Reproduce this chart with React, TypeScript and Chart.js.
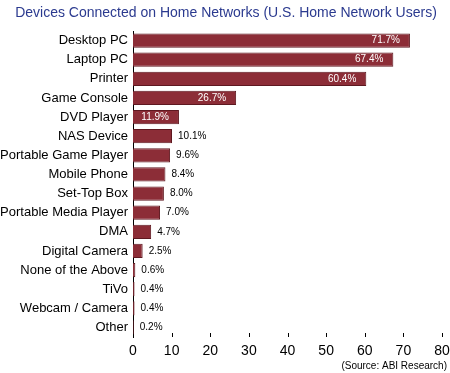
import React, { useEffect, useRef } from "react";
import { Chart, registerables } from "chart.js";

Chart.register(...registerables);

const categories = [
  "Desktop PC",
  "Laptop PC",
  "Printer",
  "Game Console",
  "DVD Player",
  "NAS Device",
  "Portable Game Player",
  "Mobile Phone",
  "Set-Top Box",
  "Portable Media Player",
  "DMA",
  "Digital Camera",
  "None of the Above",
  "TiVo",
  "Webcam / Camera",
  "Other",
];
const values = [71.7, 67.4, 60.4, 26.7, 11.9, 10.1, 9.6, 8.4, 8.0, 7.0, 4.7, 2.5, 0.6, 0.4, 0.4, 0.2];
const xTicks = [0, 10, 20, 30, 40, 50, 60, 70, 80];
const titleText = "Devices Connected on Home Networks (U.S. Home Network Users)";
const sourceText = "(Source: ABI Research)";

const FONT = "'Liberation Sans', Arial, sans-serif";

const decorPlugin = {
  id: "decor",
  afterDraw(chart: any) {
    const ctx = chart.ctx;
    const area = chart.chartArea;
    const xs = chart.scales.x;
    ctx.save();
    ctx.fillStyle = "#2B3A8F";
    ctx.font = `14px ${FONT}`;
    ctx.textAlign = "center";
    ctx.textBaseline = "middle";
    ctx.fillText(titleText, 226, 13);
    ctx.fillStyle = "#000";
    ctx.font = `10px ${FONT}`;
    ctx.textAlign = "right";
    ctx.fillText(sourceText, 447, 366);
    ctx.strokeStyle = "#000";
    ctx.lineWidth = 1;
    xTicks.forEach((v) => {
      if (v === 0) return;
      const px = Math.round(xs.getPixelForValue(v)) + 0.5;
      ctx.beginPath();
      ctx.moveTo(px, area.bottom);
      ctx.lineTo(px, area.bottom - 4);
      ctx.stroke();
    });
    ctx.restore();
  },
  afterDatasetsDraw(chart: any) {
    const ctx = chart.ctx;
    const meta = chart.getDatasetMeta(0);
    ctx.save();
    ctx.font = `10px ${FONT}`;
    ctx.textBaseline = "middle";
    meta.data.forEach((bar: any, i: number) => {
      const v = values[i];
      const label = v.toFixed(1) + "%";
      if (v > 11) {
        ctx.fillStyle = "#fff";
        ctx.textAlign = "right";
        ctx.fillText(label, bar.x - 10, bar.y);
      } else {
        ctx.fillStyle = "#000";
        ctx.textAlign = "left";
        ctx.fillText(label, bar.x + 6, bar.y);
      }
    });
    ctx.restore();
  },
};

export default function App() {
  const ref = useRef<HTMLCanvasElement>(null);
  useEffect(() => {
    if (!ref.current) return;
    const chart = new Chart(ref.current, {
      type: "bar",
      data: {
        labels: categories,
        datasets: [
          {
            data: values,
            backgroundColor: "#8C2D37",
            borderColor: "#5E1820",
            borderWidth: 1,
            borderSkipped: "start",
            barPercentage: 0.75,
            categoryPercentage: 1,
          },
        ],
      },
      options: {
        indexAxis: "y",
        animation: false,
        responsive: false,
        layout: { padding: { top: 31, right: 8, left: 0, bottom: 0 } },
        plugins: {
          legend: { display: false },
          title: { display: false },
          tooltip: { enabled: false },
        },
        scales: {
          x: {
            min: 0,
            max: 80,
            afterFit(scale: any) {
              scale.height = 36;
              scale.paddingRight = 0;
              scale.paddingLeft = 0;
            },
            afterBuildTicks(scale: any) {
              scale.ticks = xTicks.map((v) => ({ value: v }));
            },
            grid: { display: false, drawTicks: false },
            border: { display: false },
            ticks: {
              color: "#000",
              font: { family: FONT, size: 14 },
              padding: 6,
              maxRotation: 0,
            },
          },
          y: {
            afterFit(scale: any) {
              scale.width = 133;
              scale.paddingTop = 0;
              scale.paddingBottom = 0;
            },
            grid: { display: false, drawTicks: false },
            border: { display: true, color: "#000", width: 1 },
            ticks: {
              color: "#000",
              font: { family: FONT, size: 13 },
              padding: 5,
              autoSkip: false,
            },
          },
        },
      },
      plugins: [decorPlugin],
    });
    return () => chart.destroy();
  }, []);
  return (
    <div style={{ position: "fixed", left: 0, top: 0, width: 450, height: 373, background: "#fff" }}>
      <canvas ref={ref} width={450} height={373} />
    </div>
  );
}
